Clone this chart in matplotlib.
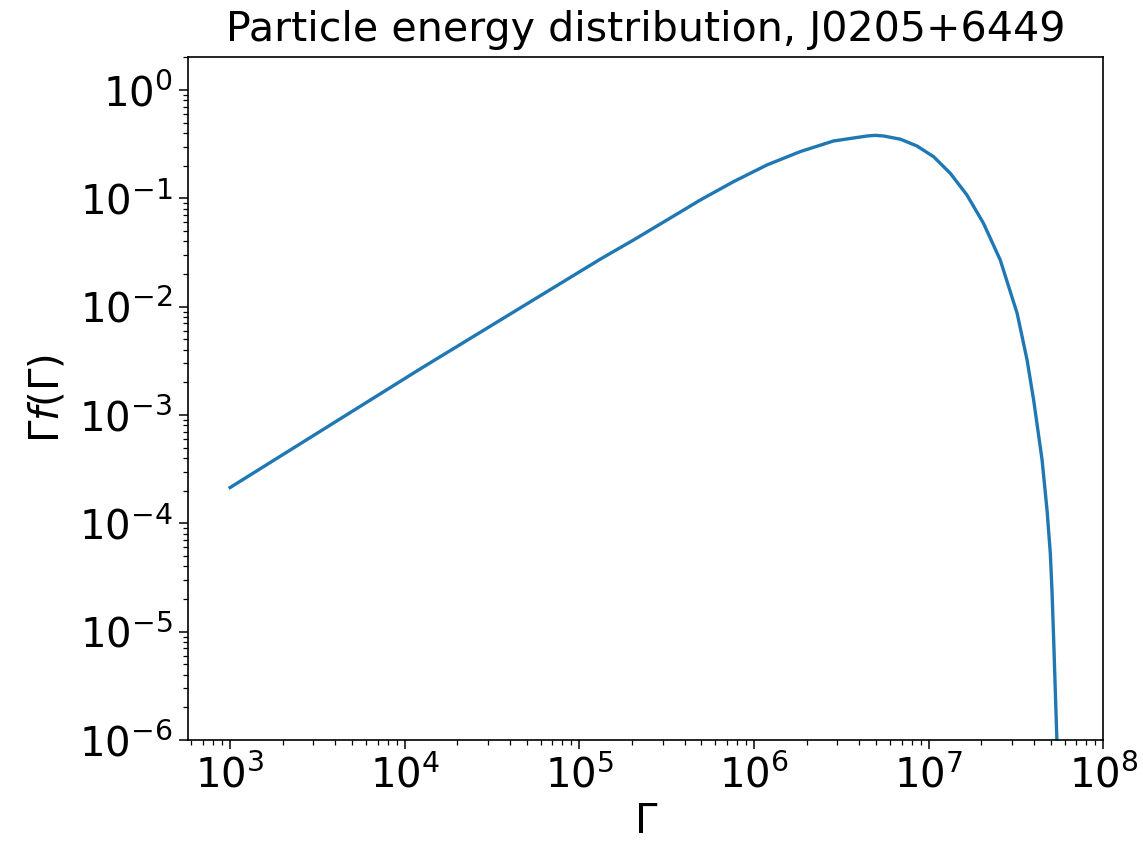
import matplotlib
matplotlib.use("Agg")
import matplotlib.pyplot as plt
from matplotlib.ticker import LogLocator, NullFormatter

# Data
gamma = [1.00e3, 1.22e4, 1.315e5, 2.04e5, 3.17e5, 4.92e5, 7.64e5, 1.186e6,
         1.841e6, 2.85e6, 4.44e6, 4.95e6, 5.52e6, 6.89e6, 8.57e6, 1.067e7,
         1.330e7, 1.656e7, 2.06e7, 2.57e7, 3.21e7, 3.66e7, 3.99e7, 4.46e7,
         4.76e7, 4.97e7, 5.08e7, 5.19e7, 5.42e7, 5.50e7]
gamma_f = [2.14e-4, 2.65e-3, 2.74e-2, 4.12e-2, 6.30e-2, 9.64e-2, 0.1426, 0.2032,
           0.270, 0.338, 0.376, 0.381, 0.376, 0.351, 0.304, 0.242,
           0.170, 0.1072, 0.0587, 0.0269, 8.67e-3, 3.21e-3, 1.374e-3, 3.84e-4,
           1.324e-4, 5.31e-5, 2.42e-5, 8.89e-6, 1.0e-6, 1.0e-7]

title = "Particle energy distribution, J0205+6449"
xlabel = r"$\Gamma$"
ylabel = r"$\Gamma f(\Gamma)$"

fig = plt.figure(figsize=(11.43, 8.42), dpi=100)
ax = fig.add_axes([0.1645, 0.1211, 0.8008, 0.8108])
ax.plot(gamma, gamma_f, color="#1f77b4", lw=2.4)
ax.set_xscale("log")
ax.set_yscale("log")
ax.set_xlim(10**2.759, 1e8)
ax.set_ylim(1e-6, 2)

fs = 29
ax.set_title(title, fontsize=29.6, pad=12)
ax.set_xlabel(xlabel, fontsize=fs, labelpad=4)
ax.set_ylabel(ylabel, fontsize=fs, labelpad=8)

for a in (ax.xaxis, ax.yaxis):
    a.set_major_locator(LogLocator(base=10, numticks=20))
    a.set_minor_locator(LogLocator(base=10, subs=range(2, 10), numticks=20))
    a.set_minor_formatter(NullFormatter())
ax.tick_params(which="major", labelsize=fs, length=6.3, width=1.1, pad=5)
ax.tick_params(which="minor", length=3.6, width=0.9)
for s in ax.spines.values():
    s.set_linewidth(1.2)

fig.savefig("out.png", dpi=100)
